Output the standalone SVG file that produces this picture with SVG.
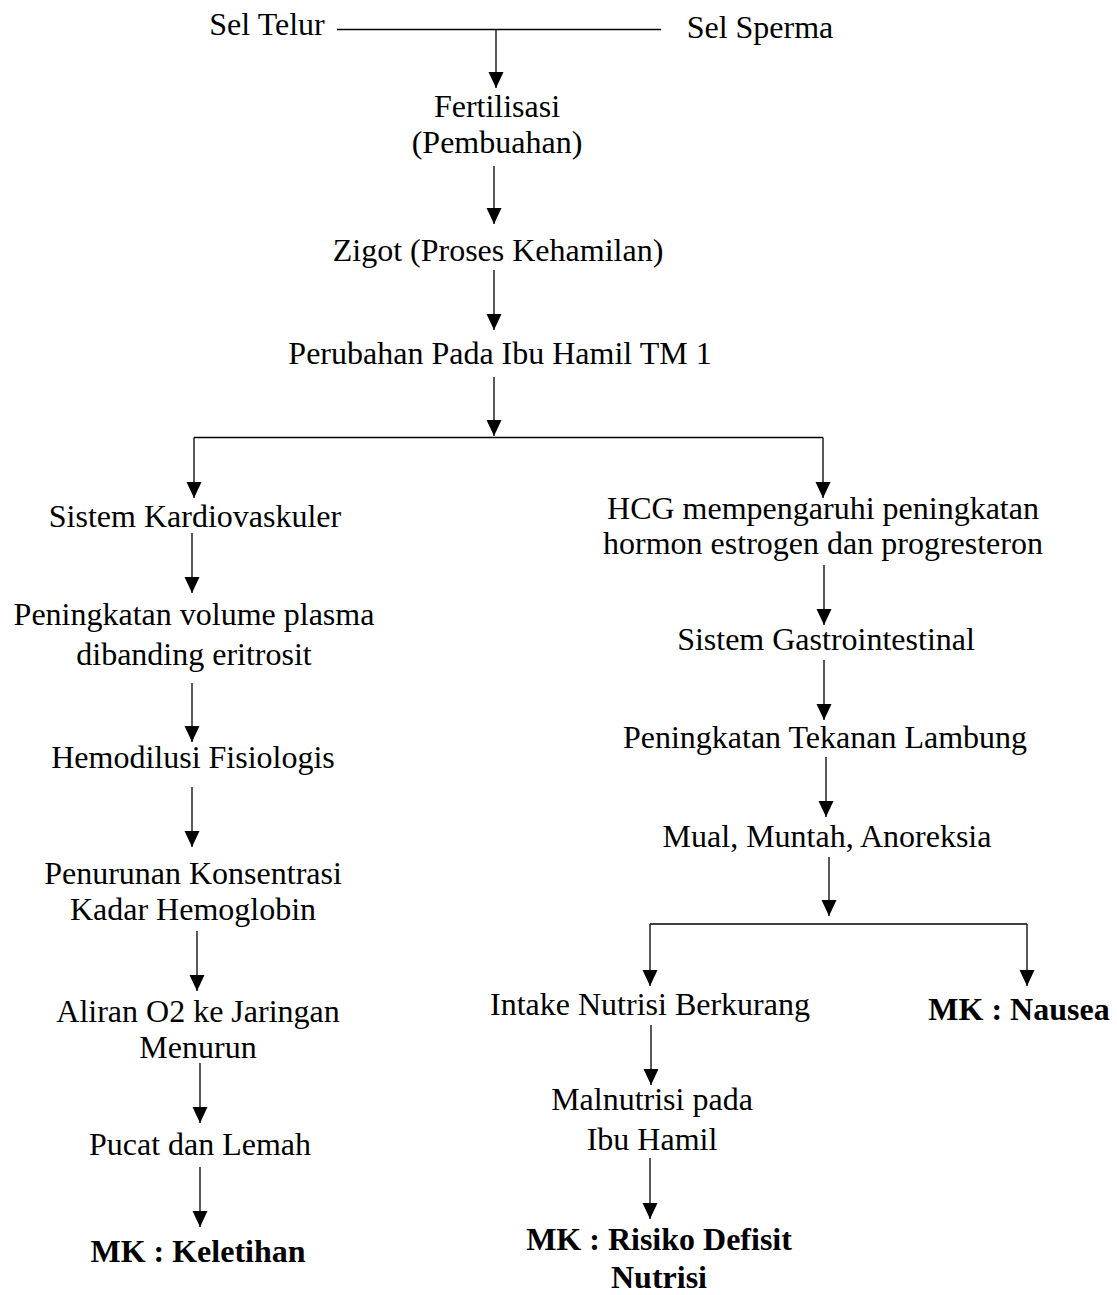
<svg xmlns="http://www.w3.org/2000/svg" width="1117" height="1295" viewBox="0 0 1117 1295">
<style>
text{font-family:"Liberation Serif","Times New Roman",serif;font-size:32px;fill:#000;text-anchor:middle}
.b{font-weight:bold}
.l{fill:none;stroke:#000;stroke-width:1.3}
.a{marker-end:url(#ah)}
</style>
<defs>
<marker id="ah" markerUnits="userSpaceOnUse" markerWidth="16" markerHeight="16" refX="16" refY="7.5" orient="auto">
<path d="M0,0 L16,7.5 L0,15 z" fill="#000"/>
</marker>
</defs>
<rect width="1117" height="1295" fill="#fff"/>
<g id="connectors">
<path class="l" d="M337,29.5 H661"/>
<path class="l a" d="M496,29.5 V88"/>
<path class="l a" d="M494,166 V224"/>
<path class="l a" d="M494,270 V330"/>
<path class="l a" d="M494,377 V436"/>
<path class="l" d="M194,437.5 H823"/>
<path class="l a" d="M194,437.5 V498"/>
<path class="l a" d="M823,437.5 V498"/>
<path class="l a" d="M192,533 V593"/>
<path class="l a" d="M192,683 V742"/>
<path class="l a" d="M192,787 V847"/>
<path class="l a" d="M197,931 V991"/>
<path class="l a" d="M200,1063 V1123"/>
<path class="l a" d="M200,1167 V1227"/>
<path class="l a" d="M824,565 V625"/>
<path class="l a" d="M824,660 V720"/>
<path class="l a" d="M826,757 V817"/>
<path class="l a" d="M829,857 V916"/>
<path class="l" d="M650,924 H1027"/>
<path class="l a" d="M650,924 V986"/>
<path class="l a" d="M1027,924 V986"/>
<path class="l a" d="M651,1025 V1085"/>
<path class="l a" d="M650,1158 V1219"/>
</g>
<g id="sel-telur"><text x="267" y="35">Sel Telur</text></g>
<g id="sel-sperma"><text x="760" y="38">Sel Sperma</text></g>
<g id="fertilisasi"><text x="497" y="117">Fertilisasi</text><text x="497" y="153">(Pembuahan)</text></g>
<g id="zigot"><text x="498" y="261">Zigot (Proses Kehamilan)</text></g>
<g id="perubahan"><text x="500" y="364">Perubahan Pada Ibu Hamil TM 1</text></g>
<g id="kardio"><text x="195" y="527">Sistem Kardiovaskuler</text></g>
<g id="plasma"><text x="194" y="625">Peningkatan volume plasma</text><text x="194" y="665">dibanding eritrosit</text></g>
<g id="hemodilusi"><text x="193" y="768">Hemodilusi Fisiologis</text></g>
<g id="hemoglobin"><text x="193" y="884">Penurunan Konsentrasi</text><text x="193" y="920">Kadar Hemoglobin</text></g>
<g id="aliran"><text x="198" y="1022">Aliran O2 ke Jaringan</text><text x="198" y="1058">Menurun</text></g>
<g id="pucat"><text x="200" y="1155">Pucat dan Lemah</text></g>
<g id="keletihan"><text class="b" x="198" y="1262">MK : Keletihan</text></g>
<g id="hcg"><text x="823" y="519">HCG mempengaruhi peningkatan</text><text x="823" y="554">hormon estrogen dan progresteron</text></g>
<g id="gastro"><text x="826" y="650">Sistem Gastrointestinal</text></g>
<g id="lambung"><text x="825" y="748">Peningkatan Tekanan Lambung</text></g>
<g id="mual"><text x="827" y="847">Mual, Muntah, Anoreksia</text></g>
<g id="intake"><text x="650" y="1015">Intake Nutrisi Berkurang</text></g>
<g id="nausea"><text class="b" x="1019" y="1020">MK : Nausea</text></g>
<g id="malnutrisi"><text x="652" y="1110">Malnutrisi pada</text><text x="652" y="1150">Ibu Hamil</text></g>
<g id="defisit"><text class="b" x="659" y="1250">MK : Risiko Defisit</text><text class="b" x="659" y="1288">Nutrisi</text></g>
</svg>
